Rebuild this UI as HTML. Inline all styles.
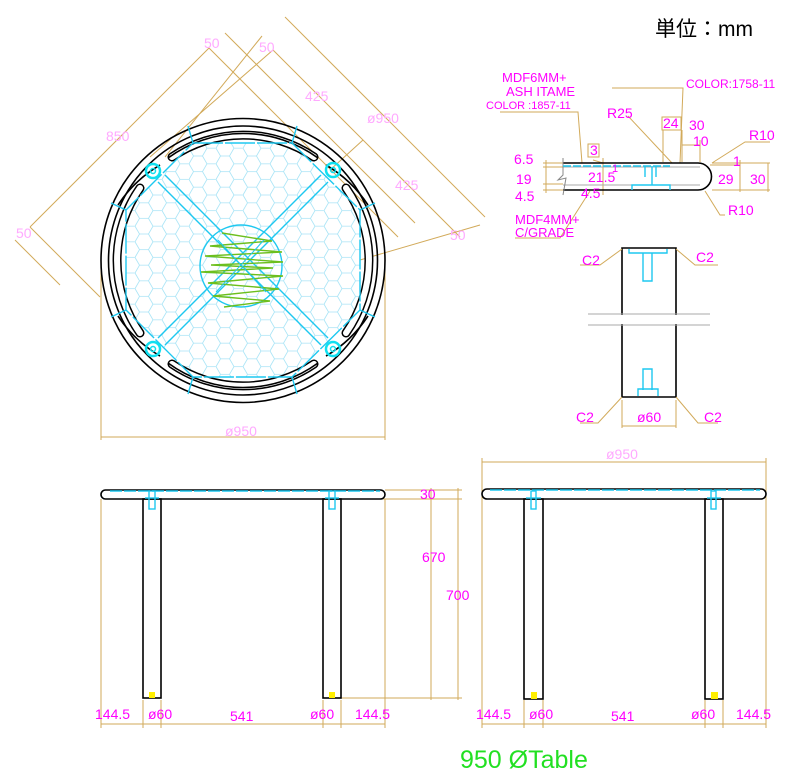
<!DOCTYPE html>
<html><head><meta charset="utf-8"><style>
html,body{margin:0;padding:0;background:#fff;}
svg{display:block;}
.dim{stroke:#d2aa5a;stroke-width:1;fill:none;}
.blk{stroke:#000;stroke-width:1.6;fill:none;}
.cy{stroke:#1ec8f0;stroke-width:1.4;fill:none;}
.gr{stroke:#aaa;stroke-width:1;fill:none;}
.m{fill:#ff00ff;font-family:"Liberation Sans",sans-serif;font-size:14px;}
.p{fill:#ffaaff;font-family:"Liberation Sans",sans-serif;font-size:14px;}
</style></head><body>
<svg width="800" height="772" viewBox="0 0 800 772" xmlns="http://www.w3.org/2000/svg">
<defs>
<pattern id="hex" width="27" height="15.6" patternUnits="userSpaceOnUse">
<path d="M0,7.8 L4.5,0 L13.5,0 L18,7.8 L13.5,15.6 L4.5,15.6 Z M18,7.8 L27,7.8" fill="none" stroke="#a8e4f6" stroke-width="0.8"/>
</pattern>
<clipPath id="oct"><polygon points="193,143 292,143 360,210 360,310 292,377 193,377 126,310 126,210"/></clipPath>
</defs>
<text x="655" y="36" font-family="Liberation Sans,Noto Sans CJK JP,sans-serif" font-size="21" fill="#000">単位：mm</text>

<g class="dim">
<line x1="30" y1="227" x2="209" y2="48"/>
<line x1="150" y1="157" x2="273" y2="50"/>
<line x1="165" y1="157" x2="262" y2="36"/>
<line x1="209" y1="48" x2="398" y2="237"/>
<line x1="225" y1="33" x2="415" y2="223"/>
<line x1="273" y1="50" x2="460" y2="237"/>
<line x1="285" y1="17" x2="485" y2="217"/>
<line x1="330" y1="170" x2="363" y2="140"/>
<line x1="360" y1="260" x2="480" y2="225"/>
<line x1="15" y1="240" x2="60" y2="285"/>
<line x1="30" y1="227" x2="100" y2="297"/>
<line x1="101" y1="260" x2="101" y2="440"/>
<line x1="385" y1="260" x2="385" y2="440"/>
<line x1="101" y1="437" x2="385" y2="437"/>
</g>
<g class="p">
<text x="106" y="141">850</text>
<text x="204" y="48">50</text>
<text x="259" y="52">50</text>
<text x="305" y="101">425</text>
<text x="367" y="123">ø950</text>
<text x="395" y="190">425</text>
<text x="450" y="240">50</text>
<text x="16" y="238">50</text>
<text x="225" y="436">ø950</text>
</g>

<rect x="100" y="118" width="285" height="285" fill="url(#hex)" clip-path="url(#oct)"/>
<circle cx="243" cy="260.5" r="142" class="blk"/>
<circle cx="243" cy="260.5" r="134.5" class="blk"/>
<g fill="none" stroke-linecap="round">
<path d="M172,157 A126,126 0 0 1 314,157" stroke="#000" stroke-width="9"/>
<path d="M172,157 A126,126 0 0 1 314,157" stroke="#fff" stroke-width="6"/>
<path d="M172,364 A126,126 0 0 0 314,364" stroke="#000" stroke-width="9"/>
<path d="M172,364 A126,126 0 0 0 314,364" stroke="#fff" stroke-width="6"/>
<path d="M140,188 A126,126 0 0 0 140,333" stroke="#000" stroke-width="9"/>
<path d="M140,188 A126,126 0 0 0 140,333" stroke="#fff" stroke-width="6"/>
<path d="M346,188 A126,126 0 0 1 346,333" stroke="#000" stroke-width="9"/>
<path d="M346,188 A126,126 0 0 1 346,333" stroke="#fff" stroke-width="6"/>
</g>
<path d="M118,205 A127,127 0 0 1 160,165 M326,165 A127,127 0 0 1 368,205 M118,316 A127,127 0 0 0 160,356 M326,356 A127,127 0 0 0 368,316 M168,158 A127,127 0 0 1 318,158 M168,363 A127,127 0 0 0 318,363" class="blk"/>
<polygon points="193,143 292,143 360,210 360,310 292,377 193,377 126,310 126,210" class="cy" stroke-dasharray="30,2"/>
<g class="cy">
<line x1="193" y1="143" x2="188" y2="126"/><line x1="292" y1="143" x2="297" y2="126"/>
<line x1="360" y1="210" x2="375" y2="203"/><line x1="360" y1="310" x2="375" y2="317"/>
<line x1="292" y1="377" x2="297" y2="394"/><line x1="193" y1="377" x2="188" y2="394"/>
<line x1="126" y1="310" x2="111" y2="317"/><line x1="126" y1="210" x2="111" y2="203"/>
<line x1="165" y1="175" x2="328" y2="338"/><line x1="158" y1="182" x2="321" y2="345"/>
<line x1="321" y1="175" x2="158" y2="338"/><line x1="328" y1="182" x2="165" y2="345"/>
</g>
<circle cx="241" cy="266" r="41" fill="#fff" class="cy"/>
<polyline points="222,233 272,241 210,246 282,252 205,256 283,262 211,265 273,268 201,272 283,276 208,283 279,289 213,296 270,301 224,307" fill="none" stroke="#6cbf1e" stroke-width="1.4"/>
<line x1="218" y1="240" x2="266" y2="292" stroke="#1ec8f0" stroke-width="1"/>
<line x1="264" y1="240" x2="216" y2="292" stroke="#1ec8f0" stroke-width="1"/>
<g fill="none" stroke="#10e0f0">
<circle cx="153" cy="171" r="7" stroke-width="2.5"/><circle cx="153" cy="171" r="2.5" stroke-width="1.5"/>
<circle cx="333" cy="170" r="7" stroke-width="2.5"/><circle cx="333" cy="170" r="2.5" stroke-width="1.5"/>
<circle cx="153" cy="349" r="7" stroke-width="2.5"/><circle cx="153" cy="349" r="2.5" stroke-width="1.5"/>
<circle cx="333" cy="349" r="7" stroke-width="2.5"/><circle cx="333" cy="349" r="2.5" stroke-width="1.5"/>
</g>

<g class="dim">
<polyline points="500,112 578,112 582,163"/>
<polyline points="612,88 683,88 680,163"/>
<line x1="628" y1="116" x2="672" y2="163"/>
<line x1="663" y1="130" x2="663" y2="162"/><line x1="682" y1="130" x2="682" y2="162"/>
<line x1="682" y1="145" x2="700" y2="145"/><line x1="700" y1="140" x2="700" y2="162"/>
<polyline points="770,142 745,142 712,163"/>
<polyline points="725,215 720,215 705,191"/>
<polyline points="515,238 560,238 590,191"/>
<line x1="543" y1="163" x2="563" y2="163"/><line x1="543" y1="167" x2="563" y2="167"/>
<line x1="543" y1="184" x2="563" y2="184"/><line x1="543" y1="190" x2="563" y2="190"/>
<line x1="546" y1="160" x2="546" y2="193"/>
<line x1="603" y1="158" x2="603" y2="195"/><line x1="593" y1="160" x2="603" y2="163"/>
<line x1="710" y1="165" x2="740" y2="165"/><line x1="740" y1="160" x2="740" y2="192"/>
<line x1="712" y1="190" x2="770" y2="190"/><line x1="768" y1="163" x2="768" y2="192"/>
<line x1="712" y1="163" x2="770" y2="163"/>
</g>
<rect x="588" y="144" width="11" height="13" fill="none" stroke="#d2aa5a"/>
<rect x="662" y="117" width="19" height="13" fill="none" stroke="#d2aa5a"/>
<path d="M563,163 L698,163 A13.5,13.5 0 0 1 698,190 L563,190" fill="none" stroke="#000" stroke-width="1.6"/>
<line x1="563" y1="167" x2="700" y2="167" class="gr"/><line x1="563" y1="185" x2="700" y2="185" class="gr"/>
<path d="M563,158 L563,175 L558,180 L566,178 L563,195" fill="none" stroke="#888" stroke-width="1"/>
<g class="cy" stroke-width="1.2">
<line x1="563" y1="166" x2="670" y2="166" stroke-dasharray="8,2"/>
<path d="M645,166 V177 M656,166 V177 M652,166 V185 M632,190 V185 H670 V190"/>
</g>
<g class="m">
<text x="502" y="82" font-size="13">MDF6MM+</text><text x="506" y="96" font-size="13">ASH ITAME</text>
<text x="486" y="109" font-size="11">COLOR :1857-11</text>
<text x="686" y="88" font-size="12">COLOR:1758-11</text>
<text x="607" y="118">R25</text><text x="663" y="128">24</text><text x="689" y="130">30</text>
<text x="693" y="146">10</text><text x="749" y="140">R10</text>
<text x="590" y="155">3</text><text x="514" y="164">6.5</text><text x="516" y="184">19</text>
<text x="515" y="201">4.5</text><text x="588" y="182">21.5</text><text x="612" y="172" font-size="11">1</text>
<text x="581" y="198">4.5</text><text x="733" y="166">1</text><text x="718" y="184">29</text>
<text x="750" y="184">30</text><text x="728" y="215">R10</text>
<text x="515" y="224" font-size="13">MDF4MM+</text><text x="515" y="237" font-size="13">C/GRADE</text>
</g>

<path d="M622,248 H676 V397 H622 Z" class="blk"/>
<line x1="588" y1="314" x2="710" y2="314" class="gr"/><line x1="588" y1="325" x2="710" y2="325" class="gr"/>
<rect x="588" y="315" width="122" height="9" fill="#fff"/>
<g class="cy" stroke-width="1.2">
<path d="M629,249 V253 H667 V249 M643,253 V281 H652 V253"/>
<path d="M643,390 V369 H652 V390 M638,396 V389 H658 V396"/>
</g>
<g class="dim">
<polyline points="580,265 600,265 622,249"/><polyline points="718,265 695,265 676,249"/>
<polyline points="580,423 598,423 622,397"/><polyline points="718,423 698,423 676,397"/>
<line x1="622" y1="400" x2="622" y2="428"/><line x1="676" y1="400" x2="676" y2="428"/>
<line x1="622" y1="426" x2="676" y2="426"/>
</g>
<g class="m"><text x="582" y="265">C2</text><text x="696" y="262">C2</text>
<text x="576" y="422">C2</text><text x="704" y="422">C2</text><text x="637" y="422">ø60</text></g>

<g class="dim">
<line x1="101" y1="499" x2="101" y2="728"/><line x1="385" y1="499" x2="385" y2="728"/>
<line x1="143" y1="700" x2="143" y2="728"/><line x1="161" y1="700" x2="161" y2="728"/>
<line x1="323" y1="700" x2="323" y2="728"/><line x1="341" y1="700" x2="341" y2="728"/>
<line x1="101" y1="724" x2="385" y2="724"/>
<line x1="385" y1="490" x2="462" y2="490"/><line x1="340" y1="499" x2="462" y2="499"/>
<line x1="341" y1="698" x2="462" y2="698"/>
<line x1="431" y1="488" x2="431" y2="700"/><line x1="458" y1="488" x2="458" y2="700"/>
</g>
<rect x="101" y="490" width="284" height="9" rx="4.5" class="blk"/>
<line x1="110" y1="491" x2="380" y2="491" class="cy" stroke-dasharray="12,2"/>
<rect x="143" y="499" width="18" height="199" class="blk"/>
<rect x="323" y="499" width="18" height="199" class="blk"/>
<g class="cy" stroke-width="1.1"><rect x="149" y="491" width="6" height="18"/><line x1="145" y1="498" x2="159" y2="498"/>
<rect x="329" y="491" width="6" height="18"/><line x1="325" y1="498" x2="339" y2="498"/></g>
<rect x="149" y="692" width="6" height="6" fill="#ffee00"/><rect x="329" y="692" width="6" height="6" fill="#ffee00"/>
<g class="m"><text x="95" y="719">144.5</text><text x="148" y="719">ø60</text><text x="230" y="721">541</text>
<text x="310" y="719">ø60</text><text x="355" y="719">144.5</text>
<text x="420" y="499">30</text><text x="422" y="562">670</text><text x="446" y="600">700</text></g>

<g class="dim">
<line x1="482" y1="458" x2="482" y2="728"/><line x1="766" y1="458" x2="766" y2="728"/>
<line x1="482" y1="462" x2="766" y2="462"/>
<line x1="524" y1="700" x2="524" y2="728"/><line x1="543" y1="700" x2="543" y2="728"/>
<line x1="705" y1="700" x2="705" y2="728"/><line x1="723" y1="700" x2="723" y2="728"/>
<line x1="482" y1="724" x2="766" y2="724"/>
</g>
<rect x="482" y="489" width="284" height="10" rx="5" class="blk"/>
<line x1="490" y1="490" x2="760" y2="490" class="cy" stroke-dasharray="12,2"/>
<rect x="524" y="499" width="19" height="200" class="blk"/>
<rect x="705" y="499" width="18" height="200" class="blk"/>
<g class="cy" stroke-width="1.1"><rect x="531" y="491" width="5" height="18"/><line x1="526" y1="498" x2="541" y2="498"/>
<rect x="711" y="491" width="5" height="18"/><line x1="707" y1="498" x2="721" y2="498"/></g>
<rect x="531" y="692" width="6" height="7" fill="#ffee00"/><rect x="711" y="692" width="7" height="7" fill="#ffee00"/>
<g class="p"><text x="606" y="459">ø950</text></g>
<g class="m"><text x="476" y="719">144.5</text><text x="529" y="719">ø60</text><text x="611" y="721">541</text>
<text x="691" y="719">ø60</text><text x="736" y="719">144.5</text></g>

<text x="460" y="768" font-family="Liberation Sans,sans-serif" font-size="25" fill="#22e022">950 ØTable</text>
</svg>
</body></html>
